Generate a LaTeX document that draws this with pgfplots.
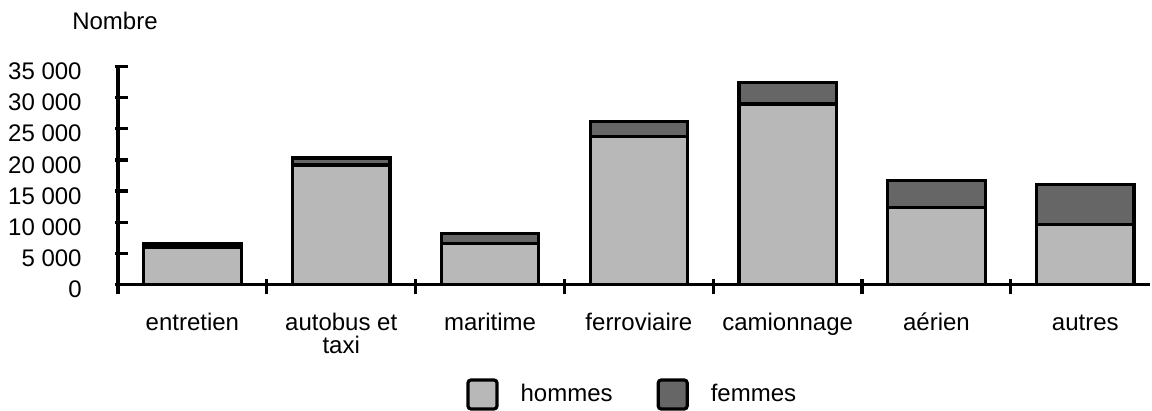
\documentclass[border=0pt]{standalone}
\usepackage{fontspec}
\setmainfont{Liberation Sans}
\usepackage{pgfplots}
\pgfplotsset{compat=1.18}
\definecolor{hommes}{gray}{0.72}
\definecolor{femmes}{gray}{0.40}
\pgfplotsset{
    boxlegend/.style={legend image code/.code={%
        \draw[##1, rounded corners=1.5pt] (0pt,-7pt) rectangle (14.5pt,7.5pt);}},
}
\newcommand\st{\rule{0pt}{9pt}}

\begin{document}
\fontsize{12}{11.5}\selectfont
\begin{tikzpicture}
\begin{axis}[
    at={(0,0)}, anchor=south west,
    scale only axis, width=516pt, height=108.8pt,
    ybar stacked, bar width=0.655,
    xmin=-0.5, xmax=6.435, ymin=0, ymax=35000,
    enlargelimits=false, clip=false,
    axis x line*=bottom, axis y line*=left,
    axis line style={line width=1.6pt},
    tick align=inside,
    major tick length=0pt,
    tick style={line width=1.6pt, black},
    % category names at the bar centres
    xtick={0,...,6},
    xticklabels={\st entretien, {\st autobus et\\taxi}, \st maritime,
                 \st ferroviaire, \st camionnage, \st a\'erien, \st autres},
    xticklabel style={align=center, yshift=-10pt},
    % marks between the categories
    extra x ticks={-0.5,0.5,...,5.5},
    extra x tick labels={},
    extra x tick style={major tick length=7.5pt, tick style={yshift=-5pt}},
    ytick={0,5000,...,35000},
    extra y ticks={0,5000,...,35000},
    extra y tick labels={},
    extra y tick style={major tick length=6.5pt, tick style={xshift=-1.5pt}},
    scaled y ticks=false,
    /pgf/number format/1000 sep={\ },
    /pgf/number format/assume math mode=true,
    yticklabel style={anchor=east, xshift=-14pt, yshift=-2.4pt},
    legend columns=2,
    legend style={draw=none, fill=none, inner sep=0pt,
        at={(axis description cs:0.3372,-0.5064)}, anchor=west,
        nodes={inner sep=0pt},
        /tikz/every odd column/.append style={column sep=11pt},
        /tikz/every even column/.append style={column sep=22pt}},
]
% hommes
\addplot[fill=hommes, draw=black, line width=1.6pt, boxlegend]
    coordinates {(0,6000) (1,19200) (2,6600) (3,23800) (4,29000) (5,12300) (6,9600)};
% femmes
\addplot[fill=femmes, draw=black, line width=1.6pt, boxlegend]
    coordinates {(0,600) (1,1100) (2,1600) (3,2400) (4,3400) (5,4400) (6,6400)};
\legend{hommes, femmes}
\end{axis}
\node[anchor=base] at (-1.5pt,127.5pt) {Nombre};
\pgfresetboundingbox
\path[use as bounding box] (-59pt,-63.35pt) rectangle (517pt,142.15pt);
\end{tikzpicture}
\end{document}
